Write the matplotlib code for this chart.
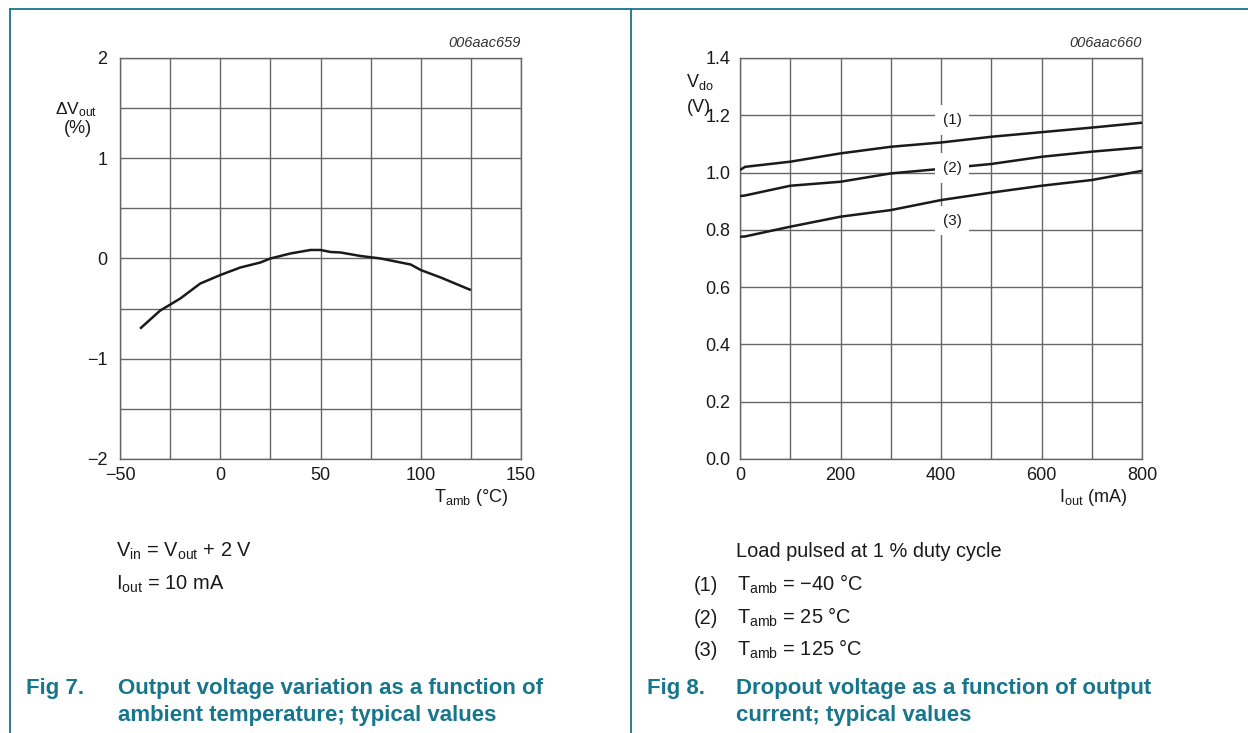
import matplotlib
matplotlib.use('Agg')
import matplotlib.pyplot as plt
from matplotlib.lines import Line2D

plt.rcParams['font.family'] = ['Liberation Sans', 'DejaVu Sans']
plt.rcParams['mathtext.fontset'] = 'custom'
plt.rcParams['mathtext.rm'] = 'Liberation Sans'
plt.rcParams['mathtext.it'] = 'Liberation Sans:italic'
plt.rcParams['mathtext.bf'] = 'Liberation Sans:bold'

# ---------------- data ----------------
# Fig 7: output voltage variation vs ambient temperature
temp_c = [-40, -35, -30, -20, -10, 0, 10, 20, 25, 35, 45, 50, 55, 60, 70, 80, 95, 100, 110, 125]
dvout_pct = [-0.70, -0.61, -0.52, -0.40, -0.25, -0.165, -0.09, -0.04, 0.0, 0.05, 0.085, 0.085,
             0.065, 0.06, 0.025, 0.0, -0.06, -0.115, -0.19, -0.315]
x1_ticks = [-50, -25, 0, 25, 50, 75, 100, 125, 150]
x1_labels = ['\u221250', '', '0', '', '50', '', '100', '', '150']
y1_ticks = [-2, -1.5, -1, -0.5, 0, 0.5, 1, 1.5, 2]
y1_labels = ['\u22122', '', '\u22121', '', '0', '', '1', '', '2']

# Fig 8: dropout voltage vs output current
iout_ma = [0, 10, 100, 200, 300, 400, 500, 600, 700, 800]
vdo_m40 = [1.009, 1.02, 1.038, 1.067, 1.09, 1.105, 1.125, 1.141, 1.157, 1.174]
vdo_25 = [0.918, 0.92, 0.954, 0.968, 0.997, 1.013, 1.030, 1.055, 1.073, 1.088]
vdo_125 = [0.776, 0.777, 0.811, 0.846, 0.869, 0.904, 0.930, 0.954, 0.974, 1.006]
curve_labels = ['(1)', '(2)', '(3)']
label_x = [422, 422, 422]
label_y = [1.184, 1.016, 0.832]
x2_ticks = [0, 100, 200, 300, 400, 500, 600, 700, 800]
x2_labels = ['0', '', '200', '', '400', '', '600', '', '800']
y2_ticks = [0.0, 0.2, 0.4, 0.6, 0.8, 1.0, 1.2, 1.4]
y2_labels = ['0.0', '0.2', '0.4', '0.6', '0.8', '1.0', '1.2', '1.4']

# ---------------- layout ----------------
W, H = 1248, 733
fig = plt.figure(figsize=(W / 100, H / 100), dpi=100)


def fx(px):
    return px / W


def fy(py):
    return 1 - py / H


teal = '#17758c'
grid_c = '#666666'
ink = '#1a1a1a'
tick_fs = 13

# frame lines of the datasheet
fig.add_artist(Line2D([fx(10), 1], [fy(9), fy(9)], color=teal, lw=1.3))
fig.add_artist(Line2D([fx(10), fx(10)], [fy(9), 0], color=teal, lw=1.3))
fig.add_artist(Line2D([fx(631), fx(631)], [fy(9), 0], color=teal, lw=1.3))


def style_axes(ax, xt, xl, yt, yl, ypad):
    ax.set_xticks(xt)
    ax.set_xticklabels(xl)
    ax.set_yticks(yt)
    ax.set_yticklabels(yl)
    ax.grid(True, color=grid_c, lw=1.0)
    ax.set_axisbelow(True)
    ax.tick_params(length=0, labelsize=tick_fs, colors=ink)
    ax.tick_params(axis='x', pad=6)
    ax.tick_params(axis='y', pad=ypad)
    for s in ax.spines.values():
        s.set_color(grid_c)
        s.set_linewidth(1.0)


# ---- Fig 7 axes ----
ax1 = fig.add_axes([fx(120), fy(459), (521 - 120) / W, (459 - 58) / H])
ax1.plot(temp_c, dvout_pct, color=ink, lw=1.8, zorder=3, solid_capstyle='butt')
ax1.set_xlim(-50, 150)
ax1.set_ylim(-2, 2)
style_axes(ax1, x1_ticks, x1_labels, y1_ticks, y1_labels, 9)

fig.text(fx(521), fy(47), '006aac659', ha='right', va='baseline', fontsize=10.5,
         style='italic', color='#333333')
fig.text(fx(76), fy(114), r'$\Delta$V$_{\rm out}$', ha='center', va='baseline',
         fontsize=12.5, color=ink)
fig.text(fx(78), fy(133), '(%)', ha='center', va='baseline', fontsize=tick_fs, color=ink)
fig.text(fx(508), fy(502), r'T$_{\rm amb}$ (°C)', ha='right', va='baseline',
         fontsize=tick_fs, color=ink)

# ---- Fig 8 axes ----
ax2 = fig.add_axes([fx(740), fy(459), (1142 - 740) / W, (459 - 58) / H])
for v in (vdo_m40, vdo_25, vdo_125):
    ax2.plot(iout_ma, v, color=ink, lw=1.8, zorder=3, solid_capstyle='butt')
for t, lx, ly in zip(curve_labels, label_x, label_y):
    ax2.text(lx, ly, t, ha='center', va='center', fontsize=11, color=ink, zorder=5,
             bbox=dict(boxstyle='square,pad=0.5', fc='white', ec='none'))
ax2.set_xlim(0, 800)
ax2.set_ylim(0, 1.4)
style_axes(ax2, x2_ticks, x2_labels, y2_ticks, y2_labels, 7)

fig.text(fx(1142), fy(47), '006aac660', ha='right', va='baseline', fontsize=10.5,
         style='italic', color='#333333')
fig.text(fx(700), fy(87), r'V$_{\rm do}$', ha='center', va='baseline', fontsize=tick_fs, color=ink)
fig.text(fx(699), fy(112), '(V)', ha='center', va='baseline', fontsize=tick_fs, color=ink)
fig.text(fx(1127), fy(502), r'I$_{\rm out}$ (mA)', ha='right', va='baseline',
         fontsize=tick_fs, color=ink)

# ---- notes ----
note_fs = 14.4
fig.text(fx(116), fy(557), r'V$_{\rm in}$ = V$_{\rm out}$ + 2 V', va='baseline',
         fontsize=note_fs, color=ink)
fig.text(fx(116), fy(590), r'I$_{\rm out}$ = 10 mA', va='baseline', fontsize=note_fs, color=ink)

fig.text(fx(736), fy(557), 'Load pulsed at 1 % duty cycle', va='baseline', fontsize=note_fs, color=ink)
notes8 = [('(1)', r'T$_{\rm amb}$ = ' + '\u221240 °C'), ('(2)', r'T$_{\rm amb}$ = 25 °C'),
          ('(3)', r'T$_{\rm amb}$ = 125 °C')]
for i, (n, t) in enumerate(notes8):
    yb = 591 + i * 32.5
    fig.text(fx(694), fy(yb), n, va='baseline', fontsize=note_fs, color=ink)
    fig.text(fx(737), fy(yb), t, va='baseline', fontsize=note_fs, color=ink)

# ---- captions ----
cap_fs = 16
fig.text(fx(26), fy(694), 'Fig 7.', va='baseline', fontsize=cap_fs, weight='bold', color=teal)
fig.text(fx(118), fy(694), 'Output voltage variation as a function of', va='baseline',
         fontsize=cap_fs, weight='bold', color=teal)
fig.text(fx(118), fy(721), 'ambient temperature; typical values', va='baseline',
         fontsize=cap_fs, weight='bold', color=teal)
fig.text(fx(647), fy(694), 'Fig 8.', va='baseline', fontsize=cap_fs, weight='bold', color=teal)
fig.text(fx(736), fy(694), 'Dropout voltage as a function of output', va='baseline',
         fontsize=cap_fs, weight='bold', color=teal)
fig.text(fx(736), fy(721), 'current; typical values', va='baseline',
         fontsize=cap_fs, weight='bold', color=teal)

fig.savefig('out.png', dpi=100, facecolor='white')
